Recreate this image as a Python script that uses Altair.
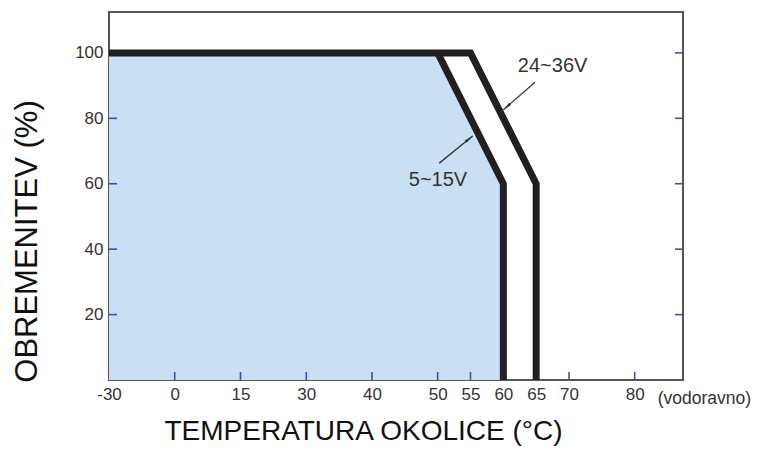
import altair as alt
import pandas as pd

# ---- data ----
x_tick_values = [-30, 0, 15, 30, 40, 50, 55, 60, 65, 70, 80]
y_tick_values = [20, 40, 60, 80, 100]
bottom_tick_values = [0, 15, 30, 40, 50, 55, 60, 65, 70, 80]

# piecewise (non-uniform) temperature axis
x_domain = [-30, 0, 30, 80, 87.35]
x_range = [0, 65.7, 197.3, 525.7, 574]
y_domain = [0, 112.5]

curve_name = ["24~36V"] * 4 + ["5~15V"] * 3
curve_temp = [-30, 55, 65, 65, 50, 60, 60]
curve_load = [100, 100, 60, 0, 100, 60, 0]

# filled region under the 5~15V curve
fill_temp = [-30, 50, 60]
fill_load = [100, 100, 60]

arrow_name = ["24~36V", "24~36V", "5~15V", "5~15V"]
arrow_temp = [64.82, 60.0, 50.25, 55.33]
arrow_load = [91.0, 82.6, 66.3, 74.6]
arrow_tip_angle = [229, 229, 51, 51]

label_text = ["24~36V", "5~15V"]
label_temp = [67.5, 50.05]
label_load = [95.9, 61.2]

note_text = ["(vodoravno)"]
note_temp = [83.5]
note_load = [-5.8]

# ---- tables ----
curves = pd.DataFrame({"name": curve_name, "t": curve_temp, "p": curve_load,
                       "i": list(range(len(curve_name)))})
fill = pd.DataFrame({"t": fill_temp, "p": fill_load})
arrows = pd.DataFrame({"name": arrow_name, "t": arrow_temp, "p": arrow_load,
                       "ang": arrow_tip_angle, "i": list(range(len(arrow_name)))})
tips = arrows.iloc[[1, 3]]
labels = pd.DataFrame({"txt": label_text, "t": label_temp, "p": label_load})
note = pd.DataFrame({"txt": note_text, "t": note_temp, "p": note_load})
yt = pd.DataFrame({"p": y_tick_values})
xt = pd.DataFrame({"t": bottom_tick_values})

REG = "Liberation Sans, Arial, Helvetica, sans-serif"

xs = alt.Scale(domain=x_domain, range=x_range, nice=False, zero=False)
ys = alt.Scale(domain=y_domain, nice=False, zero=False)

X = alt.X("t:Q", scale=xs, axis=alt.Axis(
    values=x_tick_values, ticks=False, domain=False, grid=False,
    labelExpr="'' + datum.value",
    labelFont=REG, labelFontSize=17, labelColor="#333", labelPadding=6,
    labelFlush=False, labelOverlap=False,
    title="TEMPERATURA OKOLICE (°C)", titleFont=REG, titleFontSize=28,
    titleFontWeight="normal", titleColor="#111",
    titleX=254, titleY=51, titleAlign="center", titleBaseline="middle"))
Y = alt.Y("p:Q", scale=ys, axis=alt.Axis(
    values=y_tick_values, ticks=False, domain=False, grid=False,
    labelFont=REG, labelFontSize=17, labelColor="#333", labelPadding=6,
    labelFlush=False, labelOverlap=False,
    title="OBREMENITEV (%)", titleFont=REG, titleFontSize=31,
    titleFontWeight="normal", titleColor="#111", titleAngle=270,
    titleX=-82, titleY=229, titleAlign="center", titleBaseline="middle"))

area = alt.Chart(fill).mark_area(color="#c9dff3", opacity=1, clip=True).encode(
    x=X, y=Y, y2=alt.datum(0))

tick_style = dict(color="#3b4fae", strokeWidth=1.6)
left_ticks = alt.Chart(yt).mark_rule(**tick_style).encode(
    y=alt.Y("p:Q", scale=ys), x=alt.value(0), x2=alt.value(8))
right_ticks = alt.Chart(yt).mark_rule(**tick_style).encode(
    y=alt.Y("p:Q", scale=ys), x=alt.value(566), x2=alt.value(574))
bottom_ticks = alt.Chart(xt).mark_rule(**tick_style).encode(
    x=alt.X("t:Q", scale=xs), y=alt.value(368), y2=alt.value(360))

lines = alt.Chart(curves).mark_line(
    color="#231f20", strokeWidth=7, strokeJoin="miter", strokeCap="butt", clip=True
).encode(x=alt.X("t:Q", scale=xs), y=alt.Y("p:Q", scale=ys),
         detail="name:N", order="i:Q")

arrow_lines = alt.Chart(arrows).mark_line(color="#333", strokeWidth=1.3).encode(
    x=alt.X("t:Q", scale=xs), y=alt.Y("p:Q", scale=ys), detail="name:N", order="i:Q")

arrow_heads = alt.Chart(tips).mark_point(
    shape="M0,0L-0.32,1.9L0.32,1.9Z", filled=True, color="#333", opacity=1, size=90
).encode(x=alt.X("t:Q", scale=xs), y=alt.Y("p:Q", scale=ys),
         angle=alt.Angle("ang:Q", scale=None))

texts = alt.Chart(labels).mark_text(
    font=REG, fontSize=20, color="#333", align="center", baseline="middle"
).encode(x=alt.X("t:Q", scale=xs), y=alt.Y("p:Q", scale=ys), text="txt:N")

note_mark = alt.Chart(note).mark_text(
    font=REG, fontSize=17.5, color="#333", align="left", baseline="middle", clip=False
).encode(x=alt.X("t:Q", scale=xs), y=alt.Y("p:Q", scale=ys), text="txt:N")

chart = alt.layer(area, left_ticks, right_ticks, bottom_ticks, lines,
                  arrow_lines, arrow_heads, texts, note_mark).properties(
    width=574, height=368,
    autosize=alt.AutoSizeParams(type="none"),
    padding={"left": 101, "top": 4, "right": 70, "bottom": 66},
    background="white",
).configure_view(stroke="#555", strokeWidth=2)

chart.save("out.html", embed_options={"renderer": "svg", "actions": False})
